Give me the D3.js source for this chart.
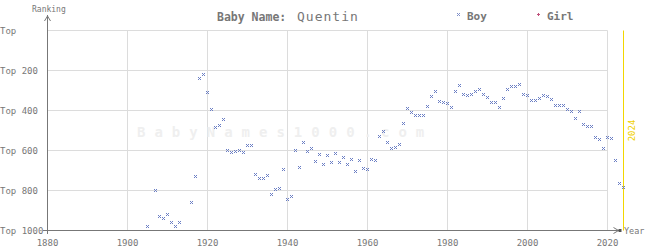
<!DOCTYPE html>
<html>
  <head>
    <meta charset="utf-8">
    <title>Baby Name: Quentin</title>
    <script src="https://cdn.jsdelivr.net/npm/d3@7"></script>
    <style>
      body { margin: 0; background: #fff; }
      svg { display: block; font-family: "DejaVu Sans Mono", monospace; }
      .grid line { stroke: #dcdcdc; stroke-width: 1; }
      .axis { stroke: #777; stroke-width: 1; fill: none; }
      .tick-label { fill: #777; font-size: 9px; }
    </style>
  </head>

  <body>
    <svg id="chart" width="645" height="250"></svg>

    <script>
      // data
      boyYears = [1905, 1907, 1908, 1909, 1910, 1911, 1912, 1913, 1916, 1917,
        1918, 1919, 1920, 1921, 1922, 1923, 1924, 1925, 1926, 1927,
        1928, 1929, 1930, 1931, 1932, 1933, 1934, 1935, 1936, 1937,
        1938, 1939, 1940, 1941, 1942, 1943, 1944, 1945, 1946, 1947,
        1948, 1949, 1950, 1951, 1952, 1953, 1954, 1955, 1956, 1957,
        1958, 1959, 1960, 1961, 1962, 1963, 1964, 1965, 1966, 1967,
        1968, 1969, 1970, 1971, 1972, 1973, 1974, 1975, 1976, 1977,
        1978, 1979, 1980, 1981, 1982, 1983, 1984, 1985, 1986, 1987,
        1988, 1989, 1990, 1991, 1992, 1993, 1994, 1995, 1996, 1997,
        1998, 1999, 2000, 2001, 2002, 2003, 2004, 2005, 2006, 2007,
        2008, 2009, 2010, 2011, 2012, 2013, 2014, 2015, 2016, 2017,
        2018, 2019, 2020, 2021, 2022, 2023, 2024];
      boyRanks = [982, 800, 930, 940, 920, 960, 980, 960, 860, 730,
        242, 222, 312, 397, 487, 477, 447, 602, 612, 607,
        602, 612, 577, 577, 722, 742, 742, 727, 822, 797,
        790, 697, 847, 832, 602, 687, 562, 607, 592, 657,
        622, 672, 627, 662, 617, 662, 637, 672, 647, 707,
        652, 692, 697, 647, 652, 532, 507, 562, 592, 587,
        572, 467, 392, 412, 427, 427, 427, 382, 332, 307,
        357, 362, 367, 387, 307, 277, 322, 327, 322, 307,
        297, 322, 337, 362, 362, 387, 342, 297, 282, 282,
        272, 322, 327, 352, 352, 342, 327, 332, 347, 377,
        377, 377, 397, 407, 442, 407, 472, 482, 482, 537,
        547, 592, 537, 542, 652, 767, 787];
      girlYears = [];
      girlRanks = [];
      yearTicks = [1880, 1900, 1920, 1940, 1960, 1980, 2000, 2020];
      rankTicks = [0, 200, 400, 600, 800, 1000];
      rankLabels = ["Top", "Top 200", "Top 400", "Top 600", "Top 800", "Top 1000"];
      currentYear = 2024;

      svg = d3.select("#chart");

      x = d3.scaleLinear()
        .domain([1880, 2020])
        .range([47.5, 607.5]);
      y = d3.scaleLinear()
        .domain([0, 1000])
        .range([30.5, 230.5]);

      // pixel "x" and "+" markers
      function px(v) {
        return Math.floor(v);
      }
      function crossX(cx, cy) {
        return [[-1, -1], [1, -1], [0, 0], [-1, 1], [1, 1]].map(function(o) {
          return "M" + (cx + o[0]) + "," + (cy + o[1]) + "h1v1h-1z";
        }).join("");
      }
      function crossPlus(cx, cy) {
        return [[0, -1], [-1, 0], [0, 0], [1, 0], [0, 1]].map(function(o) {
          return "M" + (cx + o[0]) + "," + (cy + o[1]) + "h1v1h-1z";
        }).join("");
      }

      // grid
      grid = svg.append("g").attr("class", "grid");
      grid.selectAll(".v")
        .data(yearTicks.slice(1))
        .enter().append("line")
          .attr("x1", function(d) { return x(d); })
          .attr("x2", function(d) { return x(d); })
          .attr("y1", y(0))
          .attr("y2", y(1000));
      grid.selectAll(".h")
        .data(rankTicks.slice(0, -1))
        .enter().append("line")
          .attr("x1", x(1880))
          .attr("x2", x(2020))
          .attr("y1", function(d) { return y(d); })
          .attr("y2", function(d) { return y(d); });

      // watermark
      svg.append("text")
        .attr("x", 137)
        .attr("y", 137)
        .style("font-size", "14px")
        .style("font-weight", "bold")
        .style("letter-spacing", "9px")
        .style("fill", "#efefef")
        .text("BabyNames1000.com");

      // current year line
      svg.append("line")
        .attr("x1", x(currentYear)).attr("x2", x(currentYear))
        .attr("y1", y(0)).attr("y2", y(1000))
        .style("stroke", "#f2d600")
        .style("stroke-width", 1);
      svg.append("text")
        .attr("transform", "translate(" + (x(currentYear) + 11) + "," + y(500) + ") rotate(-90)")
        .attr("text-anchor", "middle")
        .style("font-size", "9px")
        .style("fill", "#f0d000")
        .text(currentYear);

      // axes
      svg.append("path")
        .attr("class", "axis")
        .attr("d", "M" + x(1880) + ",15V234");
      svg.append("path")
        .attr("class", "axis")
        .attr("d", "M" + (x(1880) - 3) + ",21L" + x(1880) + ",16L" + (x(1880) + 3) + ",21");
      svg.append("path")
        .attr("class", "axis")
        .attr("d", "M43," + y(1000) + "H" + (x(currentYear) - 4));
      svg.append("path")
        .attr("class", "axis")
        .attr("d", "M" + (x(currentYear) - 10) + "," + (y(1000) - 3) + "L" + (x(currentYear) - 5) + "," + y(1000) + "L" + (x(currentYear) - 10) + "," + (y(1000) + 3));
      svg.append("rect")
        .attr("x", x(currentYear) - 5)
        .attr("y", y(1000) - 1.5)
        .attr("width", 3).attr("height", 3)
        .style("fill", "#555");
      svg.append("text")
        .attr("x", x(currentYear) + 0.5)
        .attr("y", y(1000) + 3)
        .attr("class", "tick-label")
        .style("font-size", "8.5px")
        .text("Year");
      svg.append("text")
        .attr("x", 32)
        .attr("y", 12)
        .attr("class", "tick-label")
        .style("font-size", "8px")
        .text("Ranking");

      svg.selectAll(".ylab")
        .data(rankTicks)
        .enter().append("text")
          .attr("class", "tick-label")
          .attr("x", 0)
          .attr("y", function(d) { return y(d) + 3; })
          .text(function(d, i) { return rankLabels[i]; });
      svg.selectAll(".xlab")
        .data(yearTicks)
        .enter().append("text")
          .attr("class", "tick-label")
          .attr("text-anchor", "middle")
          .attr("x", function(d) { return x(d); })
          .attr("y", 246)
          .text(function(d) { return d; });

      // title
      title = svg.append("text")
        .attr("x", 217)
        .attr("y", 21)
        .style("fill", "#777");
      title.append("tspan")
        .style("font-size", "11.5px")
        .style("font-weight", "bold")
        .text("Baby Name:");
      title.append("tspan")
        .attr("x", 297)
        .style("font-size", "13px")
        .style("letter-spacing", "1px")
        .text("Quentin");

      // legend
      svg.append("path")
        .attr("d", crossX(458, 14))
        .style("fill", "#7f8fc8");
      svg.append("text")
        .attr("x", 467)
        .attr("y", 20)
        .style("font-size", "11px")
        .style("font-weight", "bold")
        .style("fill", "#777")
        .text("Boy");
      svg.append("path")
        .attr("d", crossPlus(538, 14))
        .style("fill", "#c0507a");
      svg.append("text")
        .attr("x", 547)
        .attr("y", 20)
        .style("font-size", "11px")
        .style("font-weight", "bold")
        .style("fill", "#777")
        .text("Girl");

      // points
      svg.append("g")
        .selectAll("path")
        .data(boyYears)
        .enter().append("path")
          .attr("d", function(d, i) { return crossX(px(x(d)), px(y(boyRanks[i]))); })
          .style("fill", "#6a7ec4");
      svg.append("g")
        .selectAll("path")
        .data(girlYears)
        .enter().append("path")
          .attr("d", function(d, i) { return crossPlus(px(x(d)), px(y(girlRanks[i]))); })
          .style("fill", "#c0507a");
    </script>
  </body>
</html>
